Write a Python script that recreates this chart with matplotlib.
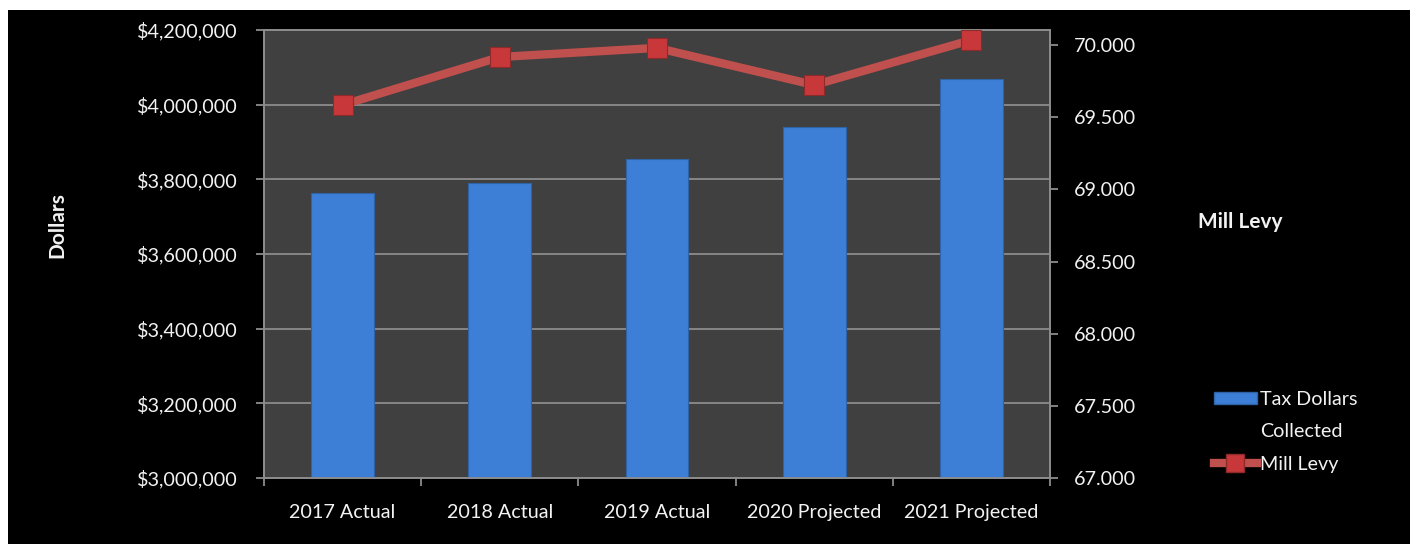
import matplotlib.pyplot as plt
from matplotlib.patches import Rectangle
from matplotlib.lines import Line2D
from matplotlib.ticker import FuncFormatter, FixedLocator

plt.rcParams["font.family"] = ["Lato", "DejaVu Sans"]

# %% data
categories = ["2017 Actual", "2018 Actual", "2019 Actual", "2020 Projected", "2021 Projected"]
tax_dollars = [3763000, 3790000, 3854000, 3940000, 4069000]
mill_levy = [69.585, 69.917, 69.980, 69.723, 70.035]

# %% colours
bg_plot = "#404040"
grid_col = "#8c8c8c"
bar_col = "#3d7fd6"
line_col = "#c0504d"
marker_col = "#c8383a"
text_col = "#f2f2f2"

fig = plt.figure(figsize=(14.1, 5.44), dpi=100)
fig.patch.set_facecolor("white")
# black panel with a thin white margin at the top and left
fig.patches.append(Rectangle((8 / 1410, 0), 1, 1 - 10 / 544, transform=fig.transFigure,
                             facecolor="black", edgecolor="none", zorder=-10))

ax = fig.add_axes([264 / 1410, 1 - 478 / 544, (1050 - 264) / 1410, (478 - 30) / 544])
ax.set_facecolor(bg_plot)
ax2 = ax.twinx()

x = list(range(len(categories)))
ax.bar(x, tax_dollars, width=0.4, color=bar_col, edgecolor="#2f63a8", linewidth=0.8, zorder=3)
ax.set_ylim(3000000, 4200000)
ax.set_xlim(-0.5, len(categories) - 0.5)
ax.yaxis.set_major_locator(FixedLocator(range(3000000, 4200001, 200000)))
ax.yaxis.set_major_formatter(FuncFormatter(lambda v, p: f"${v:,.0f}"))
ax.grid(axis="y", color=grid_col, linewidth=1.3, zorder=1)
ax.set_axisbelow(True)

ax2.plot(x, mill_levy, color=line_col, linewidth=6, marker="s", markersize=15,
         markerfacecolor=marker_col, markeredgecolor="#8e2a2a", markeredgewidth=0.8,
         zorder=5, solid_capstyle="butt")
ax2.set_ylim(67, 70.104)
ax2.yaxis.set_major_locator(FixedLocator([67 + 0.5 * i for i in range(7)]))
ax2.yaxis.set_major_formatter(FuncFormatter(lambda v, p: f"{v:.3f}"))

# x ticks: labels at centres, tick marks at category boundaries
ax.set_xticks(x)
ax.set_xticklabels(categories)
ax.set_xticks([i - 0.5 for i in range(len(categories) + 1)], minor=True)
ax.tick_params(axis="x", which="major", length=0, pad=19, labelsize=14.2, labelcolor=text_col)
ax.tick_params(axis="x", which="minor", length=6, width=1.3, color=grid_col)
ax.tick_params(axis="y", length=6, width=1.3, color=grid_col, pad=13, labelsize=14.2,
               labelcolor=text_col)
ax2.tick_params(axis="y", length=6, width=1.3, color=grid_col, pad=11, labelsize=14.2,
                labelcolor=text_col)

for a in (ax, ax2):
    for s in a.spines.values():
        s.set_color(grid_col)
        s.set_linewidth(1.3)

fig.text(57 / 1410, 1 - 225 / 544, "Dollars", rotation=90, ha="center", va="center",
         color=text_col, fontsize=15, fontweight="bold")
fig.text(1240 / 1410, 1 - 222 / 544, "Mill Levy", ha="center", va="center",
         color=text_col, fontsize=15, fontweight="bold")

# legend: the two-line bar label is split so the swatch sits on the first line
handles = [Rectangle((0, 0), 1, 1, facecolor=bar_col, edgecolor="#2f63a8"),
           Rectangle((0, 0), 1, 1, facecolor="none", edgecolor="none"),
           Line2D([], [], color=line_col, linewidth=6, marker="s", markersize=13,
                  markerfacecolor=marker_col, markeredgecolor="#8e2a2a")]
leg = fig.legend(handles, ["Tax Dollars", "Collected", "Mill Levy"], loc="upper left",
                 bbox_to_anchor=(1196 / 1410, 1 - 373 / 544), frameon=False, fontsize=14.2,
                 labelcolor=text_col, handlelength=2.2, handletextpad=0.15, labelspacing=0.78,
                 handleheight=0.55)

fig.savefig("out.png", dpi=100, facecolor=fig.get_facecolor())
